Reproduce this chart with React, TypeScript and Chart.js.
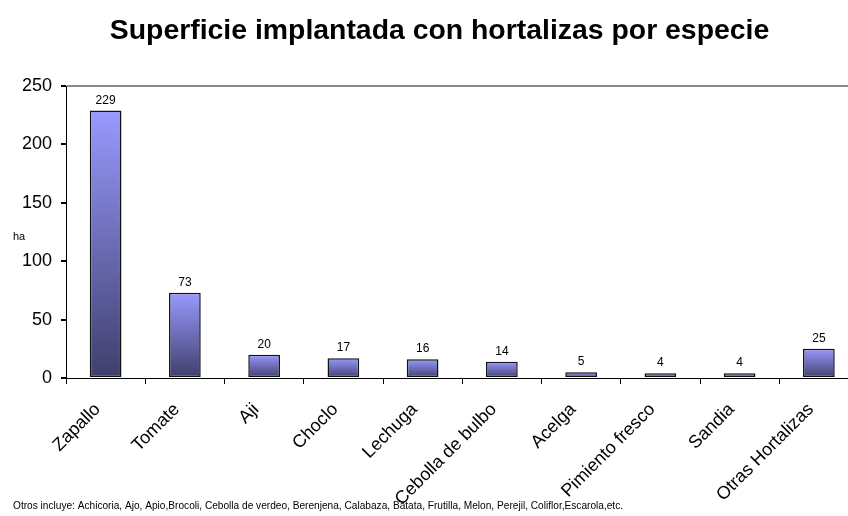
import React, { useEffect, useRef } from "react";
import { Chart, registerables } from "chart.js";

Chart.register(...registerables);

const categories = [
  "Zapallo",
  "Tomate",
  "Aji",
  "Choclo",
  "Lechuga",
  "Cebolla de bulbo",
  "Acelga",
  "Pimiento fresco",
  "Sandia",
  "Otras Hortalizas",
];
const hectares = [229, 73, 20, 17, 16, 14, 5, 4, 4, 25];
const titleText = "Superficie implantada con hortalizas por especie";
const yAxisLabel = "ha";
const footnote =
  "Otros incluye: Achicoria, Ajo, Apio,Brocoli, Cebolla de verdeo, Berenjena, Calabaza, Batata, Frutilla, Melon, Perejil, Coliflor,Escarola,etc.";

const FONT = "'Liberation Sans', Arial, sans-serif";

export default function App() {
  const ref = useRef<HTMLCanvasElement>(null);

  useEffect(() => {
    document.body.style.margin = "0";
    const canvas = ref.current;
    if (!canvas) return;

    const labelsPlugin = {
      id: "extras",
      afterDatasetsDraw(chart: any) {
        const ctx = chart.ctx;
        const meta = chart.getDatasetMeta(0);
        ctx.save();
        ctx.fillStyle = "#000";
        ctx.font = `12px ${FONT}`;
        ctx.textAlign = "center";
        ctx.textBaseline = "alphabetic";
        meta.data.forEach((el: any, i: number) => {
          ctx.fillText(String(hectares[i]), el.x, el.y - 7);
        });
        ctx.restore();
      },
      afterDraw(chart: any) {
        const ctx = chart.ctx;
        ctx.save();
        ctx.fillStyle = "#000";
        ctx.font = `11px ${FONT}`;
        ctx.textAlign = "left";
        ctx.textBaseline = "middle";
        const ys = chart.scales.y;
        ctx.fillText(yAxisLabel, 13, (ys.top + ys.bottom) / 2 + 5);
        ctx.font = `10.15px ${FONT}`;
        ctx.fillText(footnote, 13, 506);
        ctx.restore();
      },
    };

    const chart = new Chart(canvas, {
      type: "bar",
      data: {
        labels: categories,
        datasets: [
          {
            data: hectares,
            backgroundColor: (c: any) => {
              const ch = c.chart;
              const ys = ch.scales?.y;
              if (!ys || c.type !== "data") return "#9999ff";
              const top = ys.getPixelForValue(c.raw);
              const bottom = ys.getPixelForValue(0);
              if (!isFinite(top) || !isFinite(bottom) || top === bottom) return "#9999ff";
              const g = ch.ctx.createLinearGradient(0, top, 0, bottom);
              g.addColorStop(0, "#9999ff");
              g.addColorStop(1, "#3f3f6c");
              return g;
            },
            borderColor: "#111",
            borderWidth: 1.5,
            borderSkipped: false,
            barPercentage: 0.4,
            categoryPercentage: 1,
          },
        ],
      },
      options: {
        responsive: false,
        animation: false,
        devicePixelRatio: 1,
        layout: { padding: { left: 20.5, right: 1.5, top: 0, bottom: 0 } },
        plugins: {
          legend: { display: false },
          tooltip: { enabled: false },
          title: {
            display: true,
            text: titleText,
            color: "#000",
            font: { family: FONT, size: 28.4, weight: "bold" },
            padding: { top: 14, bottom: 38 },
          },
        },
        scales: {
          x: {
            afterFit: (a: any) => {
              a.height = 138;
            },
            grid: {
              display: true,
              drawOnChartArea: false,
              drawTicks: true,
              tickLength: 6,
              tickColor: "#000",
              color: "#000",
            },
            border: { display: true, color: "#000", width: 1 },
            ticks: {
              color: "#000",
              font: { family: FONT, size: 18 },
              maxRotation: 45,
              minRotation: 45,
              autoSkip: false,
              padding: 15,
              labelOffset: -8,
            },
          },
          y: {
            min: 0,
            max: 250,
            afterFit: (a: any) => {
              a.width = 45.5;
            },
            grid: {
              display: true,
              drawOnChartArea: true,
              drawTicks: true,
              tickLength: 5,
              tickColor: "#000",
              lineWidth: 2,
              color: (c: any) =>
                c.tick && c.tick.value === 250 ? "#8c8c8c" : "rgba(0,0,0,0)",
            },
            border: { display: true, color: "#000", width: 1 },
            ticks: {
              stepSize: 50,
              color: "#000",
              font: { family: FONT, size: 18 },
              padding: 9,
            },
          },
        },
      },
      plugins: [labelsPlugin],
    } as any);

    return () => chart.destroy();
  }, []);

  return (
    <div style={{ width: 848, height: 516, overflow: "hidden", position: "relative", background: "#fff" }}>
      <canvas ref={ref} width={860} height={516} style={{ display: "block" }} />
    </div>
  );
}
